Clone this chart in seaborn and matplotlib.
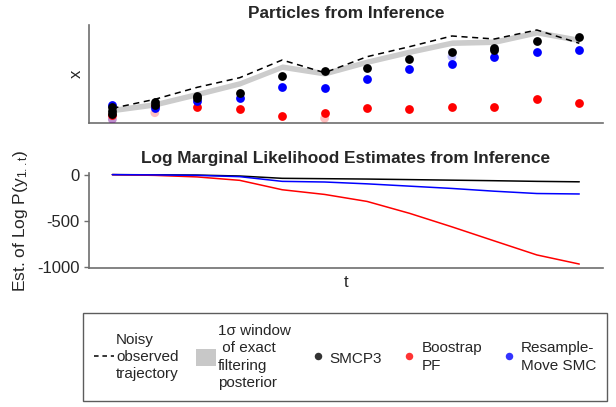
import numpy as np
import pandas as pd
import matplotlib
matplotlib.use("Agg")
import matplotlib.pyplot as plt
import seaborn as sns
from matplotlib.lines import Line2D
from matplotlib.patches import Patch

# ---- data ----
timesteps = list(range(1, 13))

# noisy observed trajectory and exact filtering posterior (mean +- 1 sd)
obs_x = [15, 24, 36, 45.6, 63.3, 50.6, 66.6, 76.6, 87.3, 84.3, 93.3, 80]
post_mean = [13.3, 19, 29.3, 40, 56.6, 50, 61.6, 71.6, 80.6, 81.6, 91, 83.3]
post_sd = [2.8] * 12

# particles per timestep (strong weight)
smcp3_particles = [[16, 12, 9], [21.6, 18], [27.6, 25], [30.6], [47.3], [52.3],
                   [55.6], [64], [71.6], [73.3, 75], [82], [86]]
bootstrap_particles = [[8], [17], [16], [14], [7.3], [10.6],
                       [15], [14], [16.6], [16.6], [24], [20]]
resample_move_particles = [[18], [15], [22], [25.6], [36], [35.6],
                           [44], [54], [59], [66.6], [71], [73.3]]
# low-weight particles (drawn faint)
bootstrap_faint = [(1, 4), (2, 10.6), (6, 5)]
resample_move_faint = [(1, 4), (9, 66.6)]

# log marginal likelihood estimates
lml_smcp3 = [0, -2, -5, -15, -40, -44, -48, -54, -60, -66, -73, -78]
lml_bootstrap = [0, -8, -25, -62, -164, -215, -291, -420, -567, -720, -872, -971]
lml_resample_move = [0, -3, -8, -22, -73, -80, -100, -125, -150, -180, -205, -210]

method_names = ["SMCP3", "Boostrap\nPF", "Resample-\nMove SMC"]
method_colors = {"SMCP3": "black", "Boostrap\nPF": "red", "Resample-\nMove SMC": "blue"}


def particles_frame(name, particles):
    rows = []
    for t, vals in zip(timesteps, particles):
        for v in vals:
            rows.append({"t": t, "x": v, "method": name})
    return pd.DataFrame(rows)


def style_axis(ax):
    for side in ["top", "right"]:
        ax.spines[side].set_visible(False)
    for side in ["left", "bottom"]:
        ax.spines[side].set_color("#6e6e6e")
        ax.spines[side].set_linewidth(1.2)


def main():
    sns.set_style("white")
    plt.rcParams["font.family"] = ["Liberation Sans", "DejaVu Sans"]
    plt.rcParams["mathtext.fontset"] = "custom"
    plt.rcParams["mathtext.rm"] = "Liberation Sans"
    plt.rcParams["mathtext.it"] = "Liberation Sans"

    fig = plt.figure(figsize=(6.16, 4.07), dpi=100)
    ax1 = fig.add_axes([0.1445, 0.697, 0.8345, 0.2416])
    ax2 = fig.add_axes([0.1445, 0.3408, 0.8345, 0.2342])

    # --- top: particles ---
    lo = np.array(post_mean) - np.array(post_sd)
    hi = np.array(post_mean) + np.array(post_sd)
    ax1.fill_between(timesteps, lo, hi, color="#cccccc", lw=0, zorder=1)
    sns.lineplot(x=timesteps, y=obs_x, ax=ax1, color="black", lw=1.1,
                 linestyle=(0, (4, 3)), zorder=2)

    faint = pd.DataFrame(
        [{"t": t, "x": v, "method": "Boostrap\nPF"} for t, v in bootstrap_faint] +
        [{"t": t, "x": v, "method": "Resample-\nMove SMC"} for t, v in resample_move_faint])
    sns.scatterplot(data=faint, x="t", y="x", hue="method", palette=method_colors,
                    s=40, alpha=0.25, linewidth=0, legend=False, ax=ax1, zorder=3)

    for name, parts in [("Boostrap\nPF", bootstrap_particles),
                        ("Resample-\nMove SMC", resample_move_particles),
                        ("SMCP3", smcp3_particles)]:
        df = particles_frame(name, parts)
        sns.scatterplot(data=df, x="t", y="x", color=method_colors[name],
                        s=40, linewidth=0, legend=False, ax=ax1, zorder=4)

    ax1.set_xlim(0.45, 12.56)
    ax1.set_ylim(0, 98.3)
    ax1.set_xticks([])
    ax1.set_yticks([])
    ax1.set_xlabel("")
    ax1.set_ylabel("x", fontsize=12, labelpad=4)
    ax1.set_title("Particles from Inference", fontsize=12.4, fontweight="bold", pad=5)
    style_axis(ax1)

    # --- bottom: log marginal likelihood ---
    lml = pd.DataFrame({
        "t": timesteps * 3,
        "lml": lml_smcp3 + lml_bootstrap + lml_resample_move,
        "method": ["SMCP3"] * 12 + ["Boostrap\nPF"] * 12 + ["Resample-\nMove SMC"] * 12,
    })
    sns.lineplot(data=lml, x="t", y="lml", hue="method", palette=method_colors,
                 lw=1.1, legend=False, ax=ax2)
    ax2.set_xlim(0.45, 12.56)
    ax2.set_ylim(-1017, 18)
    ax2.set_xticks([])
    ax2.set_yticks([0, -500, -1000])
    ax2.set_yticklabels(["0", "-500", "-1000"])
    ax2.tick_params(axis="y", labelsize=12, length=3.6, width=1, color="#6e6e6e",
                    pad=3.4, left=True)
    ax2.set_xlabel("t", fontsize=12, labelpad=5)
    ax2.set_ylabel(r"Est. of Log P($\mathregular{y_{1..t}}$)", fontsize=12.5, labelpad=5)
    ax2.set_title("Log Marginal Likelihood Estimates from Inference", fontsize=12.4,
                  fontweight="bold", pad=7)
    style_axis(ax2)

    # --- legend ---
    handles = [
        Line2D([0], [0], color="black", lw=1.1, linestyle=(0, (3, 2.5))),
        Patch(facecolor="#c8c8c8", edgecolor="none"),
        Line2D([0], [0], marker="o", color="none", markerfacecolor="#333333",
               markeredgecolor="none", markersize=5.4),
        Line2D([0], [0], marker="o", color="none", markerfacecolor="#ff3333",
               markeredgecolor="none", markersize=5.4),
        Line2D([0], [0], marker="o", color="none", markerfacecolor="#3333ff",
               markeredgecolor="none", markersize=5.4),
    ]
    labels = ["Noisy\nobserved\ntrajectory", "1\u03c3 window\n of exact\nfiltering\nposterior"] + method_names
    leg = fig.legend(handles, labels, loc="lower left", ncol=5,
                     bbox_to_anchor=(83 / 616, 6.3 / 407),
                     fontsize=11, frameon=True, fancybox=False,
                     edgecolor="#333333", handlelength=1.31, handleheight=1.3,
                     handletextpad=0.15, columnspacing=1.1,
                     borderaxespad=0, borderpad=0.7, labelspacing=0.2)
    for txt in leg.get_texts():
        txt.set_linespacing(1.3)
    leg.get_frame().set_linewidth(1.0)

    fig.savefig("out.png", dpi=100)
    plt.close(fig)


if __name__ == "__main__":
    main()
